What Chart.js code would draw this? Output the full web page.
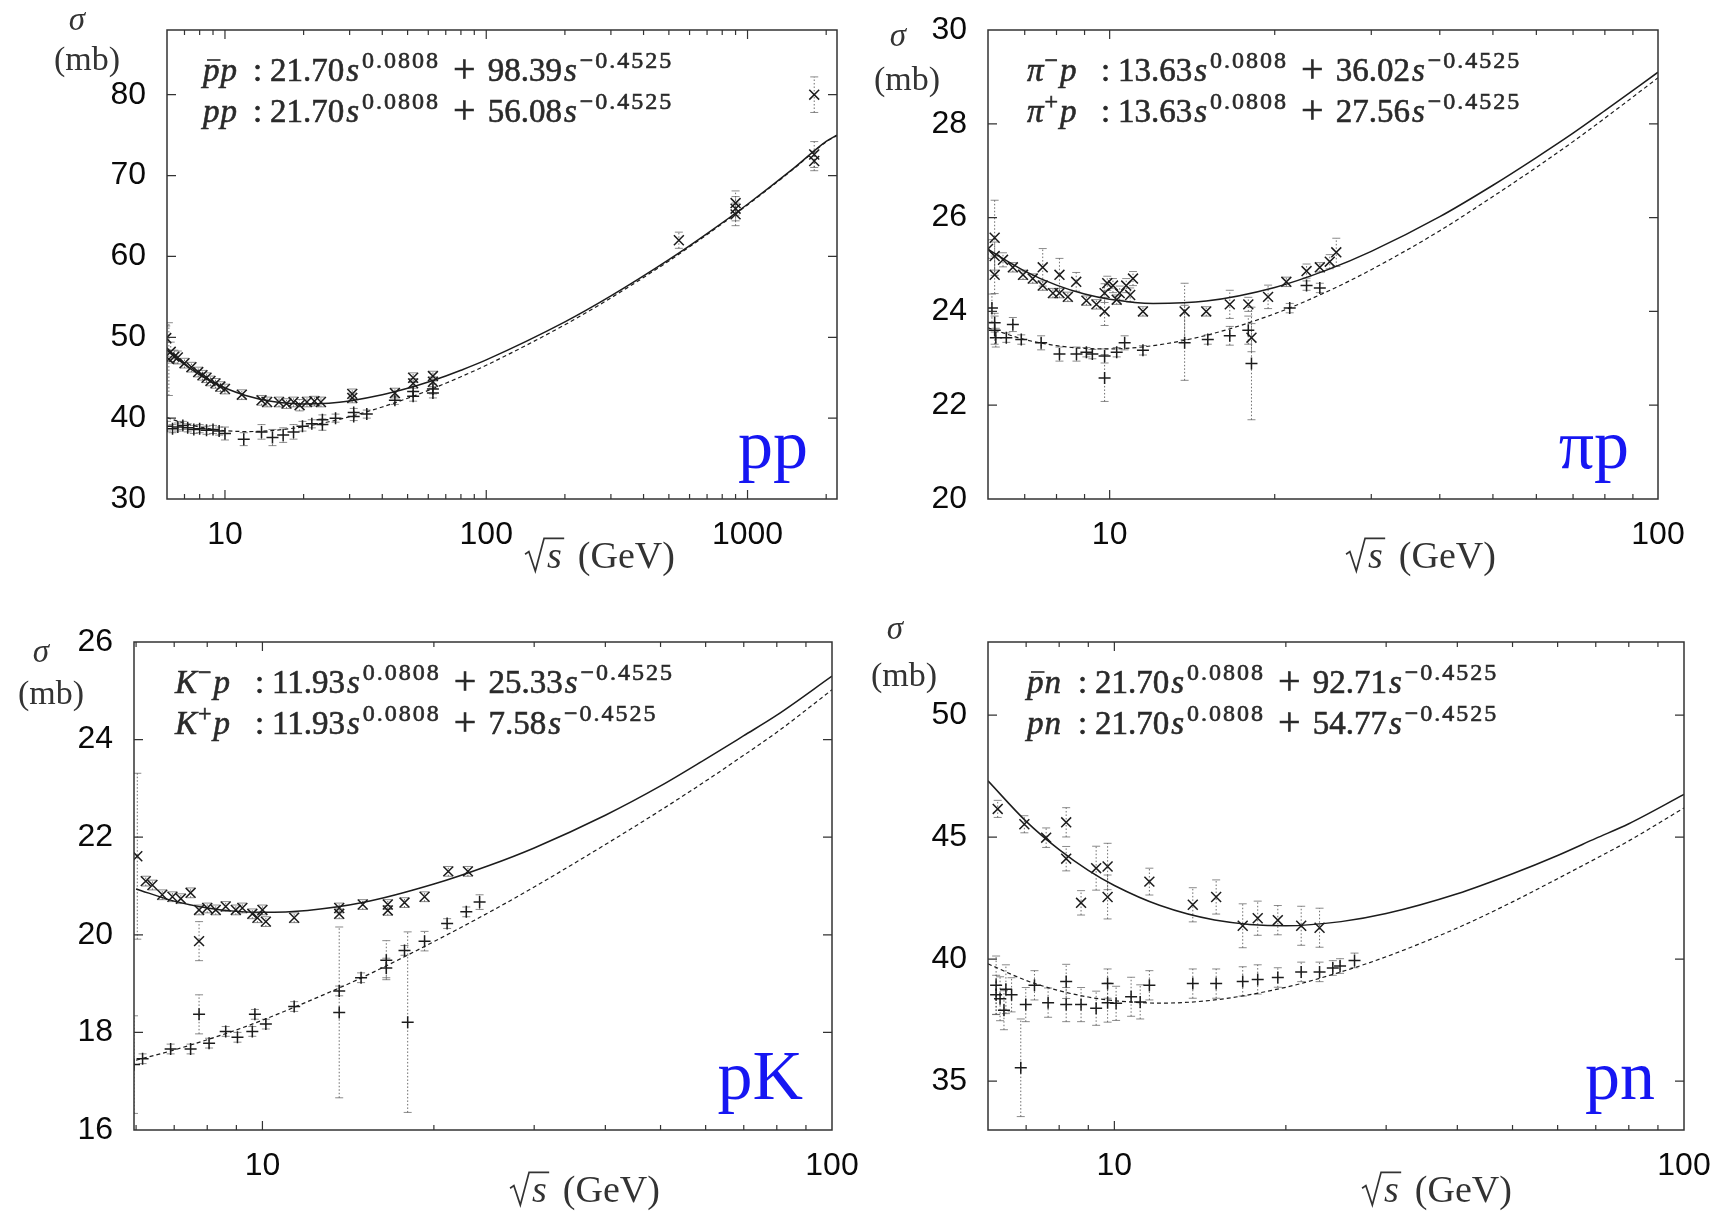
<!DOCTYPE html>
<html>
<head>
<meta charset="utf-8">
<title>Total cross sections</title>
<script src="https://cdn.jsdelivr.net/npm/chart.js@4.4.1/dist/chart.umd.min.js"></script>
<style>
  html, body { margin: 0; padding: 0; background: #fff; }
  body { position: relative; width: 1719px; height: 1213px; overflow: hidden; }
  canvas { position: absolute; }
</style>
</head>
<body>
<canvas id="ppChart" width="860" height="605" style="left:0;top:0"></canvas>
<canvas id="piChart" width="859" height="605" style="left:860px;top:0"></canvas>
<canvas id="kChart" width="860" height="608" style="left:0;top:605px"></canvas>
<canvas id="pnChart" width="859" height="608" style="left:860px;top:605px"></canvas>
<script>
// ---- axes ----
const xTicks100 = [6, 7, 8, 9, 10, 20, 30, 40, 50, 60, 70, 80, 90, 100];
const xTicksPP = [6, 7, 8, 9, 10, 20, 30, 40, 50, 60, 70, 80, 90, 100, 200, 300, 400, 500, 600, 700, 800, 900, 1000, 2000];
const xLabels100 = [10, 100];
const xLabelsPP = [10, 100, 1000];
const yTicksPP = [30, 40, 50, 60, 70, 80];
const yTicksPi = [20, 22, 24, 26, 28, 30];
const yTicksK = [16, 18, 20, 22, 24, 26];
const yTicksPn = [35, 40, 45, 50];

// ---- fit curves ----
const fitSqrtS = [6, 7, 8, 9, 10, 12, 15, 20, 25, 30, 40, 50, 60, 70, 80, 100];
const fitSqrtSpp = [6, 7, 8, 9, 10, 12, 15, 20, 25, 30, 40, 50, 60, 70, 80, 100, 200, 300, 500, 700, 1000, 1500, 2000, 2200];
const ppbarFit = [48.43, 46.63, 45.36, 44.42, 43.73, 42.81, 42.09, 41.75, 41.85, 42.13, 42.88, 43.69, 44.47, 45.22, 45.92, 47.20, 51.90, 55.11, 59.59, 62.81, 66.45, 70.88, 74.22, 75.0];
const ppFit = [40.07, 39.36, 38.91, 38.63, 38.46, 38.34, 38.45, 38.94, 39.55, 40.18, 41.38, 42.46, 43.43, 44.32, 45.12, 46.54, 51.55, 54.87, 59.44, 62.70, 66.37, 70.82, 74.17, 74.95];
const piMinusFit = [25.32, 24.86, 24.56, 24.37, 24.26, 24.17, 24.22, 24.51, 24.89, 25.28, 26.02, 26.69, 27.28, 27.80, 28.28, 29.10];
const piPlusFit = [23.65, 23.40, 23.27, 23.21, 23.20, 23.27, 23.49, 23.95, 24.43, 24.89, 25.72, 26.45, 27.07, 27.62, 28.12, 28.98];
const kMinusFit = [20.94, 20.69, 20.55, 20.48, 20.46, 20.50, 20.66, 21.04, 21.42, 21.78, 22.45, 23.05, 23.60, 24.08, 24.50, 25.30];
const kPlusFit = [17.43, 17.64, 17.85, 18.05, 18.25, 18.63, 19.13, 19.86, 20.46, 20.98, 21.85, 22.55, 23.15, 23.68, 24.15, 25.02];
const pbarnFit = [47.31, 45.65, 44.49, 43.64, 43.02, 42.21, 41.61, 41.37, 41.54, 41.87, 42.68, 43.50, 44.25, 44.95, 45.55, 46.75];
const pnFit = [39.81, 39.13, 38.71, 38.45, 38.30, 38.20, 38.33, 38.85, 39.48, 40.10, 41.28, 42.35, 43.30, 44.12, 44.85, 46.20];

// ---- measured points: sqrt(s), sigma, error ----
const ppbarSqrtS = [5.96, 6.1, 6.2, 6.4, 6.6, 7.0, 7.44, 7.9, 8.2, 8.5, 8.8, 9.2, 9.6, 10.0, 11.6, 13.8, 14.5, 16.1, 17.2, 18.3, 19.3, 20.6, 22.0, 23.3, 30.7, 30.7, 44.7, 52.5, 52.5, 62.5, 62.5, 546, 900, 900, 900, 1800, 1800, 1800];
const ppbarSigma = [49.9, 47.3, 48.2, 47.6, 47.5, 46.8, 46.3, 45.7, 45.3, 45.0, 44.6, 44.3, 43.9, 43.6, 42.9, 42.2, 42.0, 42.0, 41.8, 42.0, 41.6, 42.0, 42.1, 42.0, 42.5, 43.0, 43.1, 44.3, 45.0, 44.5, 45.2, 62.0, 65.9, 66.6, 65.2, 72.6, 80.0, 71.8];
const ppbarErr = [1.5, 4.5, 1.2, 0.8, 0.8, 0.6, 0.6, 0.6, 0.6, 0.6, 0.6, 0.6, 0.6, 0.6, 0.6, 0.6, 0.6, 0.6, 0.6, 0.6, 0.7, 0.6, 0.6, 0.6, 0.6, 0.6, 0.6, 0.6, 0.6, 0.6, 0.6, 1.0, 1.5, 1.5, 1.4, 1.6, 2.2, 1.2];
const ppSqrtS = [6.0, 6.3, 6.6, 6.9, 7.2, 7.6, 8.0, 8.5, 9.0, 9.5, 10.0, 11.8, 13.8, 15.2, 16.7, 18.3, 19.8, 21.5, 23.6, 23.6, 26.5, 31.1, 31.1, 34.9, 44.7, 52.5, 52.5, 62.5, 62.5];
const ppSigma = [39.0, 38.7, 38.9, 39.1, 38.8, 38.6, 38.7, 38.5, 38.6, 38.4, 38.1, 37.4, 38.3, 37.6, 37.9, 38.3, 39.0, 39.3, 39.2, 39.8, 40.0, 40.2, 40.7, 40.5, 42.2, 42.7, 43.3, 43.1, 43.6];
const ppErr = [0.6, 0.5, 0.5, 0.5, 0.5, 0.5, 0.5, 0.5, 0.5, 0.5, 0.8, 0.8, 0.9, 1.0, 0.9, 0.9, 0.6, 0.5, 0.7, 0.6, 0.5, 0.5, 0.5, 0.5, 0.5, 0.6, 0.6, 0.6, 0.6];

const piMinusSqrtS = [6.0, 6.17, 6.17, 6.17, 6.39, 6.66, 6.95, 7.24, 7.55, 7.55, 7.88, 8.1, 8.1, 8.39, 8.69, 9.07, 9.46, 9.79, 9.79, 10.14, 10.43, 10.72, 11.03, 11.5, 13.7, 15.0, 16.56, 17.9, 18.14, 19.45, 21.0, 22.86, 24.17, 25.2, 25.9, 9.9, 10.3, 10.9];
const piMinusSigma = [25.33, 25.57, 25.18, 24.78, 25.1, 24.94, 24.78, 24.7, 24.94, 24.55, 24.39, 24.78, 24.39, 24.31, 24.63, 24.23, 24.15, 24.0, 24.39, 24.55, 24.39, 24.55, 24.7, 24.0, 24.0, 24.0, 24.15, 24.15, 23.44, 24.31, 24.63, 24.86, 24.94, 25.06, 25.26, 24.6, 24.25, 24.35];
const piMinusErr = [0.2, 0.8, 0.3, 0.4, 0.15, 0.1, 0.1, 0.1, 0.4, 0.1, 0.1, 0.35, 0.1, 0.1, 0.2, 0.1, 0.1, 0.3, 0.2, 0.15, 0.15, 0.15, 0.15, 0.1, 0.6, 0.1, 0.3, 0.15, 0.3, 0.25, 0.1, 0.15, 0.1, 0.15, 0.3, 0.15, 0.1, 0.15];
const piPlusSqrtS = [6.1, 6.17, 6.17, 6.2, 6.48, 6.66, 6.9, 7.5, 8.1, 8.7, 9.07, 9.3, 9.79, 9.79, 10.3, 10.65, 11.5, 13.7, 15.1, 16.56, 17.9, 18.14, 21.3, 22.86, 24.17];
const piPlusSigma = [24.07, 23.76, 23.6, 23.44, 23.44, 23.72, 23.4, 23.33, 23.09, 23.09, 23.13, 23.09, 23.05, 22.58, 23.13, 23.33, 23.17, 23.33, 23.4, 23.48, 23.6, 22.89, 24.07, 24.55, 24.5];
const piPlusErr = [0.3, 0.2, 0.3, 0.2, 0.1, 0.15, 0.1, 0.15, 0.15, 0.15, 0.1, 0.1, 0.15, 0.5, 0.1, 0.15, 0.1, 0.8, 0.1, 0.2, 0.3, 1.2, 0.1, 0.1, 0.1];

const kMinusSqrtS = [6.03, 6.24, 6.41, 6.67, 6.95, 7.19, 7.48, 7.74, 7.74, 8.0, 8.28, 8.62, 8.98, 9.22, 9.6, 9.8, 10.0, 10.14, 11.37, 13.64, 13.64, 15.0, 16.6, 16.6, 17.76, 19.26, 21.2, 22.95];
const kMinusSigma = [21.61, 21.1, 21.02, 20.82, 20.78, 20.74, 20.86, 20.51, 19.87, 20.55, 20.51, 20.58, 20.51, 20.55, 20.43, 20.35, 20.51, 20.27, 20.35, 20.43, 20.55, 20.62, 20.62, 20.5, 20.66, 20.78, 21.3, 21.3];
const kMinusErr = [1.7, 0.1, 0.1, 0.1, 0.1, 0.1, 0.1, 0.1, 0.4, 0.1, 0.1, 0.1, 0.1, 0.1, 0.1, 0.1, 0.1, 0.1, 0.1, 0.1, 0.1, 0.1, 0.1, 0.1, 0.1, 0.1, 0.1, 0.1];
const kPlusSqrtS = [5.95, 6.16, 6.9, 7.48, 7.74, 8.06, 8.62, 9.04, 9.6, 9.7, 10.14, 11.37, 13.64, 13.64, 14.9, 16.5, 16.5, 17.76, 17.99, 19.26, 21.1, 22.8, 24.06];
const kPlusSigma = [17.34, 17.46, 17.66, 17.66, 18.37, 17.78, 18.02, 17.9, 18.02, 18.37, 18.17, 18.53, 18.85, 18.41, 19.12, 19.32, 19.48, 19.68, 18.21, 19.87, 20.23, 20.47, 20.67];
const kPlusErr = [1.0, 0.1, 0.1, 0.1, 0.4, 0.1, 0.1, 0.1, 0.1, 0.1, 0.1, 0.1, 0.1, 1.75, 0.1, 0.2, 0.4, 0.1, 1.85, 0.2, 0.1, 0.1, 0.15];

const pbarnSqrtS = [6.24, 6.95, 7.59, 8.23, 8.23, 8.74, 9.29, 9.73, 9.73, 11.52, 13.73, 15.09, 16.8, 17.85, 19.36, 21.28, 22.92];
const pbarnSigma = [46.16, 45.53, 44.98, 45.61, 44.12, 42.31, 43.73, 43.8, 42.55, 43.18, 42.23, 42.55, 41.37, 41.68, 41.6, 41.37, 41.29];
const pbarnErr = [0.35, 0.35, 0.4, 0.6, 0.5, 0.5, 0.9, 0.95, 0.9, 0.55, 0.7, 0.7, 0.9, 0.7, 0.6, 0.8, 0.8];
const pnSqrtS = [6.2, 6.2, 6.3, 6.4, 6.45, 6.6, 6.85, 6.99, 7.24, 7.65, 8.23, 8.23, 8.74, 9.29, 9.73, 9.73, 10.07, 10.7, 11.1, 11.52, 13.73, 15.09, 16.8, 17.85, 19.36, 21.28, 22.92, 24.18, 24.9, 26.4];
const pnSigma = [38.93, 38.54, 38.38, 37.91, 38.77, 38.54, 35.55, 38.14, 38.93, 38.22, 39.09, 38.14, 38.14, 37.99, 39.0, 38.22, 38.19, 38.46, 38.25, 38.93, 39.0, 39.0, 39.09, 39.17, 39.25, 39.48, 39.48, 39.64, 39.72, 39.95];
const pnErr = [1.2, 0.8, 0.9, 0.8, 1.0, 0.7, 2.0, 0.7, 0.6, 0.6, 0.7, 0.7, 0.7, 0.7, 0.6, 0.8, 0.7, 0.8, 0.7, 0.6, 0.6, 0.6, 0.6, 0.6, 0.4, 0.4, 0.4, 0.3, 0.3, 0.3];

const serif = '"Liberation Serif", "Times New Roman", serif';
const sans = '"Liberation Sans", Arial, sans-serif';
const ink = "#1c1c1c";

function series(w, s, e) {
  return w.map((v, i) => ({ x: v, y: s[i], e: e ? e[i] : 0 }));
}

const it = (t, extra) => Object.assign({ t: t, it: true }, extra || {});
const sup = (t) => ({ t: t, sup: true, gap: 1 });

// draws a run of text pieces, returns end x
function drawParts(ctx, x0, y, parts) {
  let x = x0;
  ctx.lineWidth = 0.6;
  parts.forEach((p) => {
    if (p.at !== undefined) x = x0 + p.at;
    x += p.gap || 0;
    const size = p.sup ? 24 : p.big ? 40 : 33;
    ctx.font = (p.it ? "italic " : "") + size + "px " + serif;
    ctx.letterSpacing = p.sup ? "2px" : "0px";
    const yy = p.sup ? y - 13 : p.big ? y + 1 : y;
    ctx.fillText(p.t, x, yy);
    ctx.strokeText(p.t, x, yy);
    const w = ctx.measureText(p.t).width;
    if (p.bar) {
      ctx.lineWidth = 1.6;
      ctx.beginPath();
      ctx.moveTo(x + 4, y - 21);
      ctx.lineTo(x + w + 1, y - 21);
      ctx.stroke();
      ctx.lineWidth = 0.6;
    }
    x += w;
  });
  ctx.letterSpacing = "0px";
  return x;
}

function drawFormula(ctx, x0, y, label, numOff, a, b) {
  drawParts(ctx, x0, y, label.concat([
    { t: ":", at: numOff - 17 },
    { t: a, at: numOff },
    it("s", { gap: 2 }),
    { t: "0.0808", sup: true, gap: 3 },
    { t: "+", big: true, gap: 13 },
    { t: b, gap: 12 },
    it("s", { gap: 2 }),
    { t: "\u22120.4525", sup: true, gap: 3 },
  ]));
}

function drawRootS(ctx, cx, base) {
  const f = 38;
  ctx.font = "italic " + f + "px " + serif;
  const sw = ctx.measureText("s").width;
  ctx.font = f + "px " + serif;
  const gw = ctx.measureText("(GeV)").width;
  const rad = 0.58 * f, gap = 0.42 * f;
  let x = cx - (rad + sw + gap + gw) / 2;
  ctx.lineWidth = 1.7;
  ctx.beginPath();
  ctx.moveTo(x, base - 0.36 * f);
  ctx.lineTo(x + 0.1 * f, base - 0.43 * f);
  ctx.lineTo(x + 0.27 * f, base + 0.08 * f);
  ctx.lineTo(x + 0.5 * f, base - 0.78 * f);
  ctx.lineTo(x + rad + sw + 0.06 * f, base - 0.78 * f);
  ctx.stroke();
  ctx.font = "italic " + f + "px " + serif;
  ctx.fillText("s", x + rad, base);
  ctx.font = f + "px " + serif;
  ctx.fillText("(GeV)", x + rad + sw + gap, base);
}

function decor(p) {
  return {
    id: "decor",
    beforeDatasetsDraw(chart) {
      const { ctx, chartArea: a, scales: { x, y } } = chart;
      ctx.save();
      ctx.beginPath();
      ctx.rect(a.left, a.top, a.right - a.left, a.bottom - a.top);
      ctx.clip();
      p.marks.forEach((m) => m.data.forEach((pt) => {
        if (!pt.e) return;
        const px = x.getPixelForValue(pt.x);
        const y1 = y.getPixelForValue(pt.y - pt.e);
        const y2 = y.getPixelForValue(pt.y + pt.e);
        ctx.strokeStyle = "rgba(60,60,60,0.75)";
        ctx.lineWidth = 1;
        ctx.setLineDash([1.5, 2]);
        ctx.beginPath();
        ctx.moveTo(px, y1);
        ctx.lineTo(px, y2);
        ctx.stroke();
        ctx.setLineDash([]);
        ctx.strokeStyle = "rgba(90,90,90,0.7)";
        ctx.beginPath();
        ctx.moveTo(px - 4, y1); ctx.lineTo(px + 4, y1);
        ctx.moveTo(px - 4, y2); ctx.lineTo(px + 4, y2);
        ctx.stroke();
      }));
      ctx.restore();
    },
    afterDraw(chart) {
      const { ctx, chartArea: a, scales: { x, y } } = chart;
      ctx.save();
      ctx.strokeStyle = "#333";
      ctx.lineWidth = 1.5;
      ctx.strokeRect(a.left, a.top, a.right - a.left, a.bottom - a.top);

      // inward ticks on all four sides
      ctx.lineWidth = 1.2;
      ctx.beginPath();
      p.xTicks.forEach((v) => {
        const px = x.getPixelForValue(v);
        if (px <= a.left + 1 || px >= a.right - 1) return;
        const len = p.xLabels.includes(v) ? 9 : 5;
        ctx.moveTo(px, a.bottom); ctx.lineTo(px, a.bottom - len);
        ctx.moveTo(px, a.top); ctx.lineTo(px, a.top + len);
      });
      p.yTicks.forEach((v) => {
        const py = y.getPixelForValue(v);
        if (py <= a.top + 1 || py >= a.bottom - 1) return;
        ctx.moveTo(a.left, py); ctx.lineTo(a.left + 9, py);
        ctx.moveTo(a.right, py); ctx.lineTo(a.right - 9, py);
      });
      ctx.stroke();

      ctx.fillStyle = "#2a2a2a";
      ctx.strokeStyle = "#2a2a2a";
      ctx.textBaseline = "alphabetic";
      ctx.textAlign = "left";
      const f = p.formula;
      drawFormula(ctx, f.x, f.y, f.lines[0][0], f.numOff, f.lines[0][1], f.lines[0][2]);
      drawFormula(ctx, f.x, f.y + 41, f.lines[1][0], f.numOff, f.lines[1][1], f.lines[1][2]);

      ctx.fillStyle = "#333";
      ctx.strokeStyle = "#333";
      ctx.textAlign = "center";
      ctx.font = "italic 33px " + serif;
      ctx.fillText("\u03c3", p.sigma[0], p.sigma[1]);
      ctx.font = "34px " + serif;
      ctx.fillText("(mb)", p.mb[0], p.mb[1]);
      ctx.textAlign = "left";
      drawRootS(ctx, p.xTitle[0], p.xTitle[1]);

      ctx.textAlign = "right";
      ctx.fillStyle = "#1616f2";
      ctx.font = "70px " + serif;
      ctx.fillText(p.tag, a.right - 29, a.bottom - 31);
      ctx.restore();
    },
  };
}

function makePanel(p) {
  const datasets = [];
  p.marks.forEach((m) => datasets.push({
    data: m.data,
    pointStyle: m.style,
    pointRadius: m.style === "crossRot" ? 7 : 6,
    borderColor: ink,
    backgroundColor: ink,
    borderWidth: 1.5,
  }));
  p.fits.forEach((f) => datasets.push({
    data: f.data,
    showLine: true,
    pointRadius: 0,
    borderColor: ink,
    borderWidth: f.dash ? 1.2 : 1.5,
    borderDash: f.dash ? [4, 3] : [],
    cubicInterpolationMode: "monotone",
    fill: false,
  }));

  new Chart(document.getElementById(p.id), {
    type: "scatter",
    data: { datasets },
    options: {
      responsive: false,
      animation: false,
      events: [],
      layout: { padding: { left: 0, top: p.top, right: p.padR, bottom: p.padB } },
      plugins: { legend: { display: false }, tooltip: { enabled: false } },
      scales: {
        x: {
          type: "logarithmic",
          min: p.xMin,
          max: p.xMax,
          grid: { display: false, drawTicks: false },
          border: { display: false },
          afterBuildTicks: (s) => { s.ticks = p.xTicks.map((v) => ({ value: v })); },
          afterFit: (s) => { s.height = 50; s.paddingLeft = 0; s.paddingRight = 0; },
          ticks: {
            autoSkip: false,
            maxRotation: 0,
            minRotation: 0,
            padding: 17,
            color: "#0a0a0a",
            font: { family: sans, size: 32 },
            callback: (v) => (p.xLabels.includes(v) ? String(v) : ""),
          },
        },
        y: {
          type: "linear",
          min: p.yMin,
          max: p.yMax,
          grid: { display: false, drawTicks: false },
          border: { display: false },
          afterBuildTicks: (s) => { s.ticks = p.yTicks.map((v) => ({ value: v })); },
          afterFit: (s) => { s.width = p.left; s.paddingTop = 0; s.paddingBottom = 0; },
          ticks: {
            padding: 21,
            color: "#0a0a0a",
            font: { family: sans, size: 32 },
            callback: (v) => String(v),
          },
        },
      },
    },
    plugins: [decor(p)],
  });
}

const panels = [
  {
    id: "ppChart", left: 167, top: 30, padR: 23, padB: 56,
    xMin: 6, xMax: 2200, xTicks: xTicksPP, xLabels: xLabelsPP,
    yMin: 30, yMax: 88, yTicks: yTicksPP,
    marks: [
      { data: series(ppbarSqrtS, ppbarSigma, ppbarErr), style: "crossRot" },
      { data: series(ppSqrtS, ppSigma, ppErr), style: "cross" },
    ],
    fits: [
      { data: series(fitSqrtSpp, ppbarFit), dash: false },
      { data: series(fitSqrtSpp, ppFit), dash: true },
    ],
    formula: {
      x: 203, y: 81, numOff: 67,
      lines: [
        [[it("p", { bar: true }), it("p", { gap: 1 })], "21.70", "98.39"],
        [[it("p"), it("p", { gap: 1 })], "21.70", "56.08"],
      ],
    },
    sigma: [77, 30], mb: [87, 70], xTitle: [600, 568], tag: "pp",
  },
  {
    id: "piChart", left: 128, top: 30, padR: 61, padB: 56,
    xMin: 6, xMax: 100, xTicks: xTicks100, xLabels: xLabels100,
    yMin: 20, yMax: 30, yTicks: yTicksPi,
    marks: [
      { data: series(piMinusSqrtS, piMinusSigma, piMinusErr), style: "crossRot" },
      { data: series(piPlusSqrtS, piPlusSigma, piPlusErr), style: "cross" },
    ],
    fits: [
      { data: series(fitSqrtS, piMinusFit), dash: false },
      { data: series(fitSqrtS, piPlusFit), dash: true },
    ],
    formula: {
      x: 167, y: 81, numOff: 91,
      lines: [
        [[it("\u03c0"), sup("\u2212"), it("p", { gap: 0 })], "13.63", "36.02"],
        [[it("\u03c0"), sup("+"), it("p", { gap: 0 })], "13.63", "27.56"],
      ],
    },
    sigma: [38, 46], mb: [47, 90], xTitle: [561, 568], tag: "\u03c0p",
  },
  {
    id: "kChart", left: 134, top: 37, padR: 28, padB: 33,
    xMin: 5.95, xMax: 100, xTicks: xTicks100, xLabels: xLabels100,
    yMin: 16, yMax: 26, yTicks: yTicksK,
    marks: [
      { data: series(kMinusSqrtS, kMinusSigma, kMinusErr), style: "crossRot" },
      { data: series(kPlusSqrtS, kPlusSigma, kPlusErr), style: "cross" },
    ],
    fits: [
      { data: series(fitSqrtS, kMinusFit), dash: false },
      { data: series(fitSqrtS, kPlusFit), dash: true },
    ],
    formula: {
      x: 175, y: 88, numOff: 97,
      lines: [
        [[it("K"), sup("\u2212"), it("p", { gap: 0 })], "11.93", "25.33"],
        [[it("K"), sup("+"), it("p", { gap: 0 })], "11.93", "7.58"],
      ],
    },
    sigma: [41, 57], mb: [51, 99], xTitle: [585, 597], tag: "pK",
  },
  {
    id: "pnChart", left: 128, top: 37, padR: 35, padB: 33,
    xMin: 6, xMax: 100, xTicks: xTicks100, xLabels: xLabels100,
    yMin: 33, yMax: 53, yTicks: yTicksPn,
    marks: [
      { data: series(pbarnSqrtS, pbarnSigma, pbarnErr), style: "crossRot" },
      { data: series(pnSqrtS, pnSigma, pnErr), style: "cross" },
    ],
    fits: [
      { data: series(fitSqrtS, pbarnFit), dash: false },
      { data: series(fitSqrtS, pnFit), dash: true },
    ],
    formula: {
      x: 167, y: 88, numOff: 68,
      lines: [
        [[it("p", { bar: true }), it("n", { gap: 1 })], "21.70", "92.71"],
        [[it("p"), it("n", { gap: 1 })], "21.70", "54.77"],
      ],
    },
    sigma: [35, 34], mb: [44, 81], xTitle: [577, 597], tag: "pn",
  },
];

panels.forEach(makePanel);
</script>
</body>
</html>
